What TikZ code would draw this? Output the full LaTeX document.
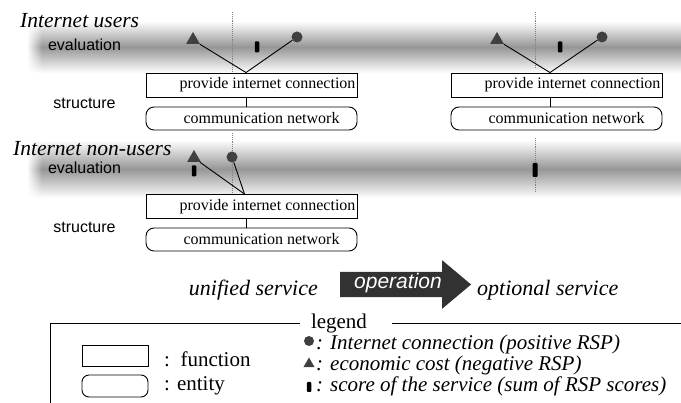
\documentclass[tikz,border=0pt]{standalone}
\usepackage{fontspec}
\setmainfont{Liberation Serif}
\setsansfont{Liberation Sans}
\usetikzlibrary{shapes.geometric,shapes.arrows,fadings}
\definecolor{markColor}{RGB}{64,64,64}
\definecolor{bandColor}{RGB}{150,150,150}
\definecolor{guideColor}{RGB}{130,130,130}
\definecolor{arrowColor}{RGB}{50,50,50}
\begin{document}
\begin{tikzpicture}[x=1pt,y=-1pt,
  fnbox/.style={draw,line width=0.9pt,fill=white,minimum width=211pt,minimum height=24pt,inner sep=0pt,font=\fontsize{16}{18}\selectfont},
  entbox/.style={fnbox,minimum height=23pt,rounded corners=8pt},
  posmark/.style={circle,fill=markColor,minimum size=11pt,inner sep=0pt},
  negmark/.style={regular polygon,regular polygon sides=3,fill=markColor,minimum size=16pt,inner sep=0pt},
  scoremark/.style={rectangle,fill=black,rounded corners=1pt,minimum width=4.5pt,minimum height=11pt,inner sep=0pt},
  rspline/.style={draw=black,line width=0.9pt},
  band/.style={top color=white,bottom color=white,middle color=bandColor},
  guide/.style={draw=guideColor,line width=0.9pt,densely dotted},
  layer/.style={anchor=base,inner sep=0pt,font=\sffamily\fontsize{16}{18}\selectfont},
  head/.style={inner sep=0pt,font=\itshape\fontsize{21.5}{24}\selectfont},
  keytext/.style={anchor=base west,inner sep=0pt,font=\fontsize{21}{23}\selectfont}]
\path[use as bounding box,fill=white] (0,0) rectangle (681,403);

\path[band] (27,21) rectangle (681,73);
\path[band] (27,140) rectangle (681,198);
\fill[white,path fading=east] (27,20) rectangle (42,74);
\fill[white,path fading=east] (27,139) rectangle (42,199);

\draw[guide] (232,12) -- (232,72);
\draw[guide] (232,133) -- (232,193);
\draw[guide] (535,12) -- (535,68);
\draw[guide] (535,138) -- (535,192);

\node[head,anchor=base west] (usersLbl) at (20,28) {Internet users};
\node[head,anchor=base west] (nonusersLbl) at (13,156) {Internet non-users};
\node[layer] (evalU) at (84.5,51) {evaluation};
\node[layer] (structU) at (84.5,109) {structure};
\node[layer] (evalN) at (84.5,174) {evaluation};
\node[layer] (structN) at (84.5,233) {structure};

\node[fnbox] (pic1) at (251.5,85) {\hspace*{32pt}provide internet connection};
\node[entbox] (net1) at (251.5,118.5) {\hspace*{20pt}communication network};
\node[fnbox] (pic2) at (556.5,85) {\hspace*{32pt}provide internet connection};
\node[entbox] (net2) at (556.5,118.5) {\hspace*{20pt}communication network};
\node[fnbox] (pic3) at (251.5,206.5) {\hspace*{32pt}provide internet connection};
\node[entbox] (net3) at (251.5,239.5) {\hspace*{20pt}communication network};

\draw[rspline] ([xshift=-5.5pt]pic1.south) -- ([xshift=-5.5pt]net1.north);
\draw[rspline] ([xshift=-6.5pt]pic2.south) -- ([xshift=-6.5pt]net2.north);
\draw[rspline] ([xshift=-5.5pt]pic3.south) -- ([xshift=-5.5pt]net3.north);

\coordinate (apex1) at ([xshift=-5.5pt]pic1.north);
\coordinate (apex2) at ([xshift=-6.5pt]pic2.north);
\coordinate (apex3) at ([xshift=-7pt]pic3.north);

\node[negmark] (cost1) at (193,40) {};
\node[posmark] (conn1) at (297,37) {};
\node[scoremark] (score1) at (257,47) {};
\node[negmark] (cost2) at (497,40) {};
\node[posmark] (conn2) at (602,37) {};
\node[scoremark] (score2) at (560,47) {};
\node[scoremark] (score3) at (194,171) {};
\node[negmark] (cost3) at (194,158) {};
\node[posmark] (conn3) at (232,157) {};
\node[scoremark,minimum width=5pt,minimum height=14pt] (score4) at (535,170) {};

\draw[rspline] (apex1) -- (cost1);
\draw[rspline] (apex1) -- (conn1);
\draw[rspline] (apex2) -- (cost2);
\draw[rspline] (apex2) -- (conn2);
\draw[rspline] (apex3) -- (cost3);
\draw[rspline] (apex3) -- (conn3);

\node[head,anchor=base east,font=\itshape\fontsize{22}{24}\selectfont] (unified) at (318,296) {unified service};
\node[single arrow,fill=arrowColor,text=white,font=\sffamily\itshape\fontsize{21}{24}\selectfont,
  minimum height=131pt,single arrow head extend=11.5pt,single arrow tip angle=80,
  inner ysep=5pt,inner xsep=2pt,text height=12pt,text depth=3pt] (op) at (398,284.5) {operation};
\node[head,anchor=base west,font=\itshape\fontsize{22}{24}\selectfont] (optional) at (477,296) {optional service};

\draw[line width=0.9pt] (50,403) -- (50,323) -- (300,323);
\draw[line width=0.9pt] (392,323) -- (681,323);
\node[keytext,anchor=base] (legendLbl) at (339,329) {legend};

\node[draw,line width=0.9pt,minimum width=66pt,minimum height=21pt,inner sep=0pt] (keyFn) at (115,356) {};
\node[draw,line width=0.9pt,minimum width=66pt,minimum height=22pt,inner sep=0pt,rounded corners=7pt] (keyEnt) at (115,386) {};
\node[keytext] (keyFnTxt) at (164,367) {:\ \ function};
\node[keytext] (keyEntTxt) at (164,391) {: entity};

\node[posmark,minimum size=10pt] (keyPos) at (309,341) {};
\node[negmark,minimum size=13pt] (keyNeg) at (309,364) {};
\node[scoremark,minimum width=4.5pt,minimum height=10pt] (keyScore) at (309,387) {};
\node[keytext,font=\itshape\fontsize{21}{23}\selectfont] (keyPosTxt) at (316,350) {: Internet connection (positive RSP)};
\node[keytext,font=\itshape\fontsize{21}{23}\selectfont] (keyNegTxt) at (316,371) {: economic cost (negative RSP)};
\node[keytext,font=\itshape\fontsize{21}{23}\selectfont] (keyScoreTxt) at (316,392) {: score of the service (sum of RSP scores)};
\end{tikzpicture}
\end{document}
